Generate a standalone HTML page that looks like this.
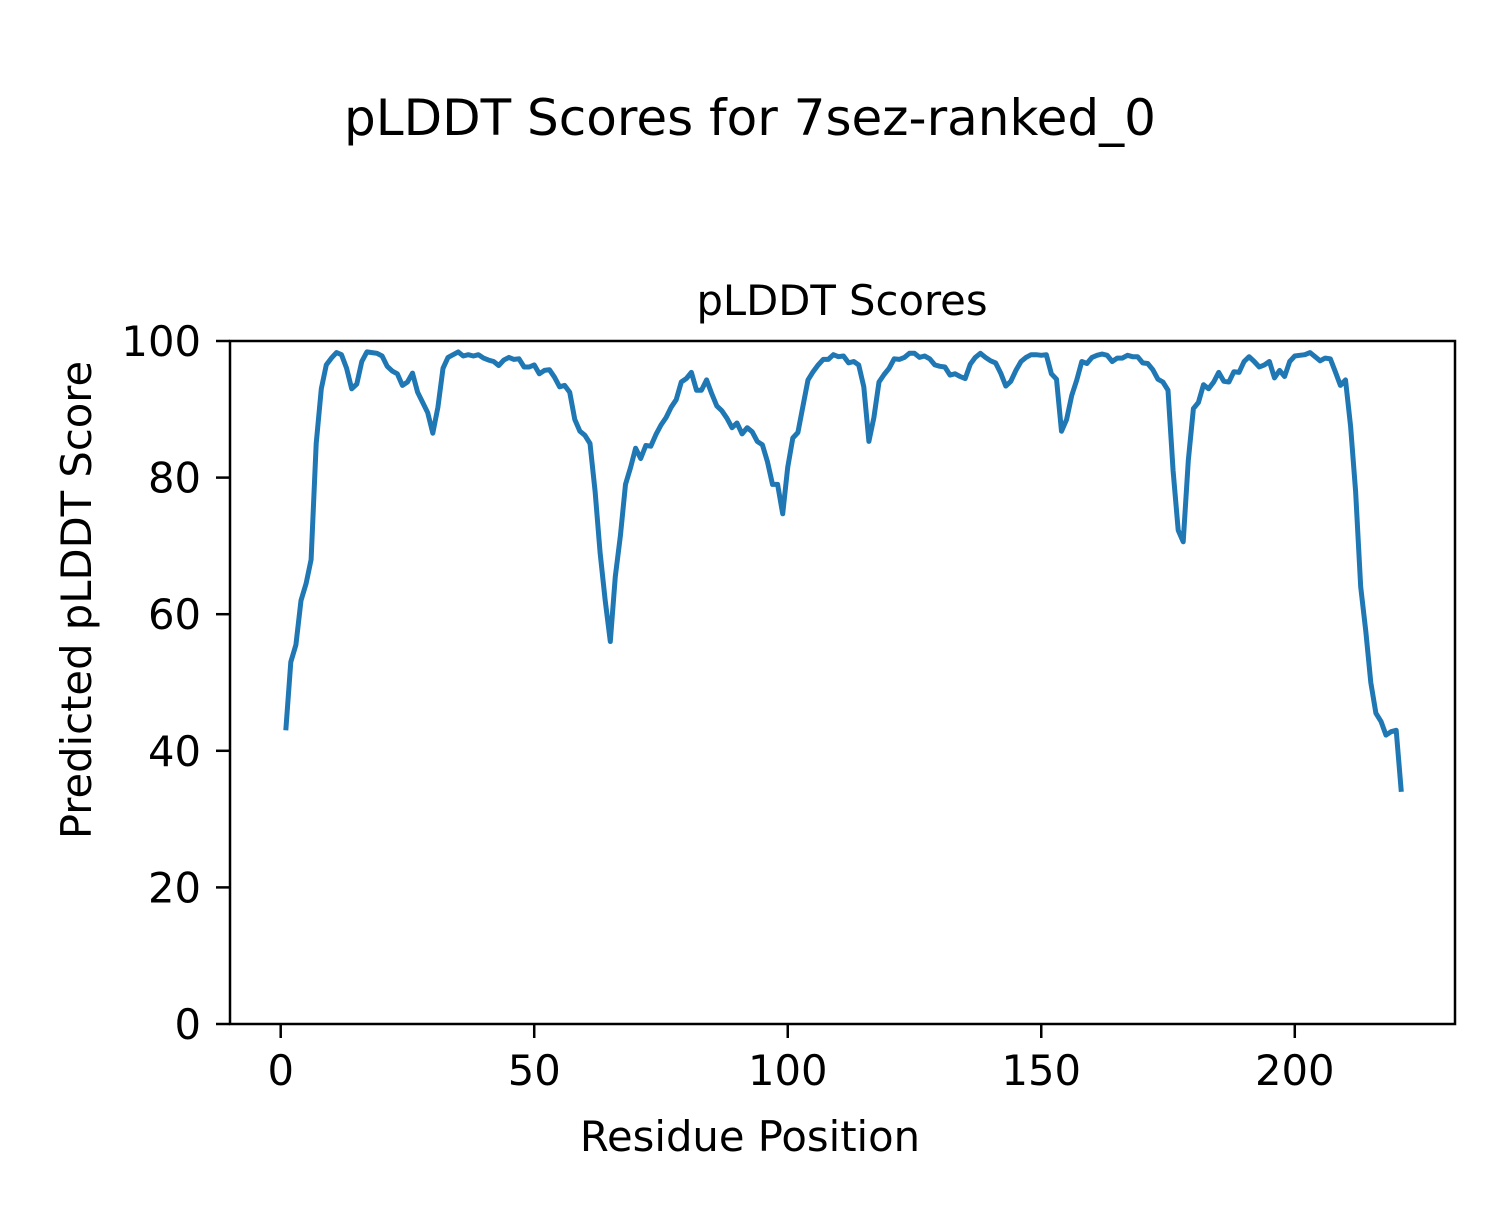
<!DOCTYPE html>
<html><head><meta charset="utf-8"><style>
body{margin:0;background:#fff;}
svg text{font-family:"DejaVu Sans","Liberation Sans",sans-serif;fill:#000;}
</style></head><body>
<svg id="chart" width="1500" height="1200" xmlns="http://www.w3.org/2000/svg">
<rect width="1500" height="1200" fill="#fff"/>
<text x="750" y="135" font-size="50" text-anchor="middle">pLDDT Scores for 7sez-ranked_0</text>
<text x="842" y="315" font-size="41.7" text-anchor="middle">pLDDT Scores</text>
<g id="ticks"></g>
<path id="line" fill="none" stroke="#1f77b4" stroke-width="5" stroke-linejoin="round"/>
<rect x="230" y="341" width="1225" height="683" fill="none" stroke="#000" stroke-width="2.5"/>
<text x="750" y="1151" font-size="41.7" text-anchor="middle">Residue Position</text>
<text x="0" y="0" font-size="41.7" text-anchor="middle" transform="translate(91,600) rotate(-90)">Predicted pLDDT Score</text>
</svg>
<script>
const scores=[43,53,55.5,62,64.5,68,85,93,96.5,97.5,98.3,98,96,93,93.7,97,98.4,98.3,98.2,97.8,96.3,95.6,95.2,93.5,94,95.3,92.5,91,89.5,86.5,90.3,96,97.6,98,98.4,97.8,98,97.8,98,97.5,97.2,97,96.4,97.2,97.6,97.3,97.4,96.2,96.2,96.5,95.2,95.7,95.8,94.7,93.3,93.5,92.5,88.5,86.8,86.2,85,78,69,62,56,65.5,71.5,79,81.5,84.3,82.8,84.7,84.6,86.3,87.7,88.8,90.3,91.4,94,94.5,95.4,92.8,92.8,94.3,92.3,90.5,89.8,88.7,87.3,88,86.4,87.3,86.7,85.3,84.8,82.3,79,79,74.7,81.5,85.8,86.6,90.5,94.3,95.5,96.5,97.3,97.3,98,97.7,97.8,96.8,97,96.5,93.3,85.3,88.8,94,95.1,96,97.4,97.3,97.6,98.2,98.2,97.6,97.8,97.4,96.5,96.3,96.2,95,95.2,94.8,94.5,96.6,97.6,98.2,97.6,97.1,96.8,95.3,93.4,94.1,95.7,97,97.6,98,98,97.9,98,95.2,94.4,86.8,88.5,92,94.3,97,96.7,97.6,97.9,98.1,97.9,97,97.5,97.5,97.9,97.7,97.7,96.8,96.7,95.8,94.4,94,92.8,81,72.3,70.6,82.5,90.1,91,93.6,93,94,95.4,94.1,94,95.5,95.4,97,97.7,97,96.2,96.5,97,94.6,95.7,94.8,97,97.8,97.9,98,98.3,97.7,97.1,97.5,97.4,95.5,93.5,94.3,87.5,78,64,57.5,50,45.5,44.3,42.3,42.8,43,34];
const xTicks=[0,50,100,150,200];
const yTicks=[0,20,40,60,80,100];
const X0=230,X1=1455,Y0=1024,Y1=341,xmin=-10,xmax=231.6,ymin=0,ymax=100;
function sx(v){return X0+(v-xmin)/(xmax-xmin)*(X1-X0);}
function sy(v){return Y0-(v-ymin)/(ymax-ymin)*(Y0-Y1);}
const NS="http://www.w3.org/2000/svg";
const g=document.getElementById('ticks');
xTicks.forEach(t=>{
  const l=document.createElementNS(NS,'line');
  l.setAttribute('x1',sx(t));l.setAttribute('x2',sx(t));l.setAttribute('y1',Y0);l.setAttribute('y2',Y0+14);
  l.setAttribute('stroke','#000');l.setAttribute('stroke-width','2.5');
  
  
  g.appendChild(l);
  const tx=document.createElementNS(NS,'text');
  tx.setAttribute('x',sx(t));tx.setAttribute('y',Y0+61);tx.setAttribute('font-size','41.7');tx.setAttribute('text-anchor','middle');
  tx.textContent=t;
  
  
  g.appendChild(tx);
});
yTicks.forEach(t=>{
  const l=document.createElementNS(NS,'line');
  l.setAttribute('x1',X0-14);l.setAttribute('x2',X0);l.setAttribute('y1',sy(t));l.setAttribute('y2',sy(t));
  l.setAttribute('stroke','#000');l.setAttribute('stroke-width','2.5');
  
  
  g.appendChild(l);
  const tx=document.createElementNS(NS,'text');
  tx.setAttribute('x',X0-29);tx.setAttribute('y',sy(t)+15);tx.setAttribute('font-size','41.7');tx.setAttribute('text-anchor','end');
  tx.textContent=t;
  
  
  g.appendChild(tx);
});
document.getElementById('line').setAttribute('d',scores.map((v,i)=>(i?'L':'M')+sx(i+1).toFixed(1)+' '+sy(v).toFixed(1)).join(' '));
</script>
</body></html>
